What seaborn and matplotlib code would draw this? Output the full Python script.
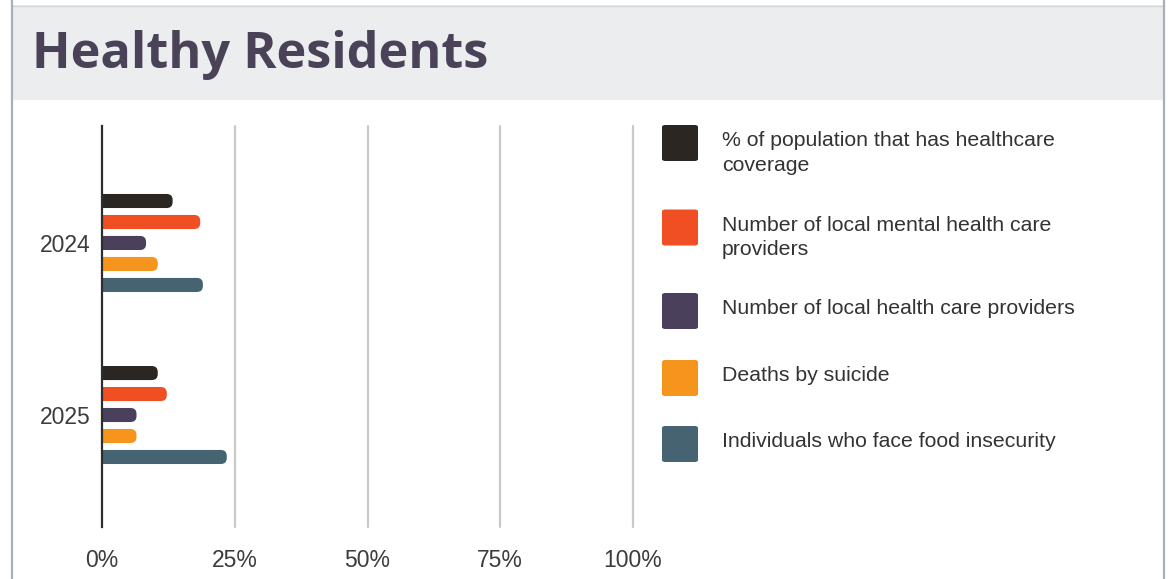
import matplotlib
matplotlib.use("Agg")
import matplotlib.pyplot as plt
from matplotlib.patches import FancyBboxPatch, Rectangle
from matplotlib.lines import Line2D
import seaborn as sns
import pandas as pd

# ---- data -------------------------------------------------------------
years = ["2024", "2025"]
series = [
    "% of population that has healthcare\ncoverage",
    "Number of local mental health care\nproviders",
    "Number of local health care providers",
    "Deaths by suicide",
    "Individuals who face food insecurity",
]
coverage = [13.3, 10.5]
mental_health_providers = [18.5, 12.2]
health_providers = [8.3, 6.5]
suicide_deaths = [10.5, 6.5]
food_insecurity = [19.0, 23.5]
colors = ["#2b2621", "#f04e23", "#4a405b", "#f6951e", "#456370"]
x_ticks = [0, 25, 50, 75, 100]
x_tick_labels = ["0%", "25%", "50%", "75%", "100%"]

values = [coverage, mental_health_providers, health_providers,
          suicide_deaths, food_insecurity]
df = pd.DataFrame(
    [(y, s, v[i]) for s, v in zip(series, values) for i, y in enumerate(years)],
    columns=["year", "measure", "value"],
)

# ---- figure -----------------------------------------------------------
W, H = 1175, 579
sns.set_theme(style="white")
plt.rcParams["font.family"] = ["Liberation Sans", "DejaVu Sans"]
fig = plt.figure(figsize=(W / 100, H / 100), dpi=100, facecolor="white")


def fx(x):
    return x / W


def fy(y):
    return 1 - y / H


# header band and card borders
fig.patches.append(Rectangle((fx(12), fy(100)), fx(1164) - fx(12), fy(5) - fy(100),
                             transform=fig.transFigure, facecolor="#ecedef",
                             edgecolor="none", zorder=0))
fig.lines.append(Line2D([fx(12), fx(1164)], [fy(5.5), fy(5.5)], transform=fig.transFigure,
                        color="#d3d7db", lw=1.0))
for xb in (12, 1164):
    fig.lines.append(Line2D([fx(xb), fx(xb)], [0, 1], transform=fig.transFigure,
                            color="#a7afb8", lw=1.6))

fig.text(fx(32), fy(68), "Healthy Residents", ha="left", va="baseline",
         fontsize=36.4, fontweight="bold", color="#4a4257",
         family=["Open Sans", "DejaVu Sans"])

# ---- bars -------------------------------------------------------------
ax = fig.add_axes([fx(102), fy(527), fx(633) - fx(102), fy(126) - fy(527)])
sns.barplot(data=df, x="value", y="year", hue="measure", order=years,
            hue_order=series, palette=colors, orient="h", width=0.61, gap=0.33,
            legend=False, ax=ax, saturation=1)

ax.set_xlim(0, 100)
ax.set_ylim(1.651, -0.680)

# rounded ends on the bars
px_per_x = (fx(633) - fx(102)) * W / 100.0
px_per_y = (fy(126) - fy(527)) * H / (1.651 + 0.680)
aspect = px_per_x / px_per_y
r = 6.0 / px_per_x
for p in list(ax.patches):
    x0, y0 = p.get_x(), p.get_y()
    w, h = p.get_width(), p.get_height()
    fc = p.get_facecolor()
    p.remove()
    ax.add_patch(FancyBboxPatch((x0 - r, y0), w + r, h,
                                boxstyle=f"round,pad=0,rounding_size={r}",
                                mutation_aspect=aspect, facecolor=fc,
                                edgecolor="none", zorder=3))

for xv in x_ticks[1:]:
    ax.axvline(xv, color="#c9c9c9", lw=1.6, zorder=1, clip_on=False)

for s in ("top", "right", "bottom"):
    ax.spines[s].set_visible(False)
ax.spines["left"].set_color("#2e2e2e")
ax.spines["left"].set_linewidth(1.6)
ax.spines["left"].set_zorder(5)

ax.set_xticks(x_ticks)
ax.set_xticklabels(x_tick_labels)
ax.tick_params(axis="x", length=0, pad=16, labelsize=16.5, labelcolor="#3c3c3c")
ax.tick_params(axis="y", length=0, pad=8, labelsize=16.5, labelcolor="#3c3c3c")
ax.set_xlabel("")
ax.set_ylabel("")
ax.grid(False)
ax.set_facecolor("none")

# ---- legend -----------------------------------------------------------
sq_centers = [143, 227.5, 311, 378, 444]
for c, label, cy in zip(colors, series, sq_centers):
    fig.patches.append(FancyBboxPatch((fx(662), fy(cy + 18)), fx(36), 36 / H,
                                      boxstyle="round,pad=0,rounding_size=0.003",
                                      transform=fig.transFigure, facecolor=c,
                                      edgecolor="none"))
    fig.text(fx(722), fy(cy - 12), label, ha="left", va="top",
             fontsize=15.3, color="#333333", linespacing=1.38,
             transform=fig.transFigure)

fig.savefig("out.png", dpi=100, facecolor="white")
